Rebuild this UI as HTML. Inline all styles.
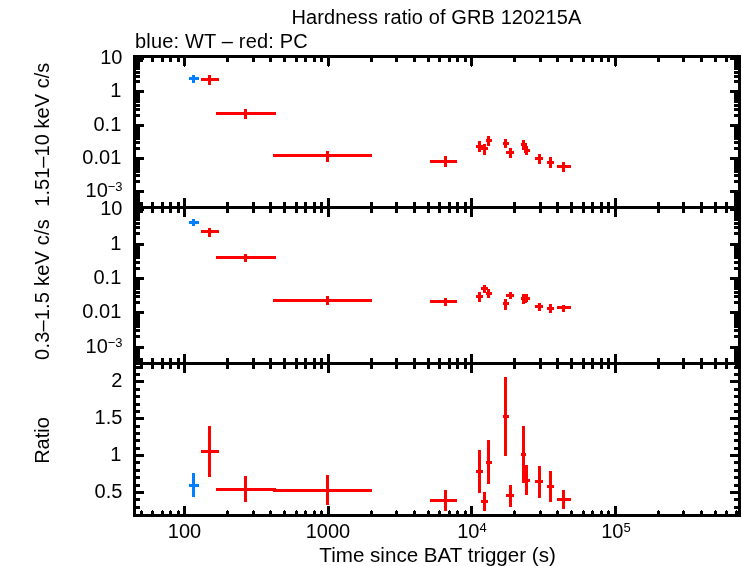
<!DOCTYPE html>
<html><head><meta charset="utf-8"><title>Hardness ratio of GRB 120215A</title>
<style>
html,body{margin:0;padding:0;background:#fff;}
svg{display:block;}
text{font-family:"Liberation Sans",sans-serif;font-size:20px;fill:#000;}
</style></head><body>
<svg width="742" height="566" viewBox="0 0 742 566">
<rect x="0" y="0" width="742" height="566" fill="#fff"/>
<g shape-rendering="crispEdges" fill="#000">
<rect x="133" y="55" width="608" height="3"/>
<rect x="133" y="514" width="608" height="3"/>
<rect x="133" y="55" width="3" height="462"/>
<rect x="738" y="55" width="3" height="462"/>
<rect x="133" y="206" width="608" height="3"/>
<rect x="133" y="362" width="608" height="3"/>
<rect x="140" y="58" width="3" height="4"/>
<rect x="140" y="202" width="3" height="11"/>
<rect x="140" y="358" width="3" height="11"/>
<rect x="140" y="511" width="3" height="3"/>
<rect x="141" y="510" width="1" height="1"/>
<rect x="151" y="58" width="3" height="4"/>
<rect x="151" y="202" width="3" height="11"/>
<rect x="151" y="358" width="3" height="11"/>
<rect x="151" y="511" width="3" height="3"/>
<rect x="152" y="510" width="1" height="1"/>
<rect x="161" y="58" width="3" height="4"/>
<rect x="161" y="202" width="3" height="11"/>
<rect x="161" y="358" width="3" height="11"/>
<rect x="161" y="511" width="3" height="3"/>
<rect x="162" y="510" width="1" height="1"/>
<rect x="169" y="58" width="3" height="4"/>
<rect x="169" y="202" width="3" height="11"/>
<rect x="169" y="358" width="3" height="11"/>
<rect x="169" y="511" width="3" height="3"/>
<rect x="170" y="510" width="1" height="1"/>
<rect x="177" y="58" width="3" height="4"/>
<rect x="177" y="202" width="3" height="11"/>
<rect x="177" y="358" width="3" height="11"/>
<rect x="177" y="511" width="3" height="3"/>
<rect x="178" y="510" width="1" height="1"/>
<rect x="183" y="58" width="3" height="8"/>
<rect x="184" y="66" width="1" height="1"/>
<rect x="183" y="198" width="3" height="19"/>
<rect x="183" y="354" width="3" height="19"/>
<rect x="183" y="506" width="3" height="8"/>
<rect x="226" y="58" width="3" height="4"/>
<rect x="226" y="202" width="3" height="11"/>
<rect x="226" y="358" width="3" height="11"/>
<rect x="226" y="511" width="3" height="3"/>
<rect x="227" y="510" width="1" height="1"/>
<rect x="252" y="58" width="3" height="4"/>
<rect x="252" y="202" width="3" height="11"/>
<rect x="252" y="358" width="3" height="11"/>
<rect x="252" y="511" width="3" height="3"/>
<rect x="253" y="510" width="1" height="1"/>
<rect x="269" y="58" width="3" height="4"/>
<rect x="269" y="202" width="3" height="11"/>
<rect x="269" y="358" width="3" height="11"/>
<rect x="269" y="511" width="3" height="3"/>
<rect x="270" y="510" width="1" height="1"/>
<rect x="283" y="58" width="3" height="4"/>
<rect x="283" y="202" width="3" height="11"/>
<rect x="283" y="358" width="3" height="11"/>
<rect x="283" y="511" width="3" height="3"/>
<rect x="284" y="510" width="1" height="1"/>
<rect x="295" y="58" width="3" height="4"/>
<rect x="295" y="202" width="3" height="11"/>
<rect x="295" y="358" width="3" height="11"/>
<rect x="295" y="511" width="3" height="3"/>
<rect x="296" y="510" width="1" height="1"/>
<rect x="304" y="58" width="3" height="4"/>
<rect x="304" y="202" width="3" height="11"/>
<rect x="304" y="358" width="3" height="11"/>
<rect x="304" y="511" width="3" height="3"/>
<rect x="305" y="510" width="1" height="1"/>
<rect x="313" y="58" width="3" height="4"/>
<rect x="313" y="202" width="3" height="11"/>
<rect x="313" y="358" width="3" height="11"/>
<rect x="313" y="511" width="3" height="3"/>
<rect x="314" y="510" width="1" height="1"/>
<rect x="320" y="58" width="3" height="4"/>
<rect x="320" y="202" width="3" height="11"/>
<rect x="320" y="358" width="3" height="11"/>
<rect x="320" y="511" width="3" height="3"/>
<rect x="321" y="510" width="1" height="1"/>
<rect x="327" y="58" width="3" height="8"/>
<rect x="328" y="66" width="1" height="1"/>
<rect x="327" y="198" width="3" height="19"/>
<rect x="327" y="354" width="3" height="19"/>
<rect x="327" y="506" width="3" height="8"/>
<rect x="370" y="58" width="3" height="4"/>
<rect x="370" y="202" width="3" height="11"/>
<rect x="370" y="358" width="3" height="11"/>
<rect x="370" y="511" width="3" height="3"/>
<rect x="371" y="510" width="1" height="1"/>
<rect x="395" y="58" width="3" height="4"/>
<rect x="395" y="202" width="3" height="11"/>
<rect x="395" y="358" width="3" height="11"/>
<rect x="395" y="511" width="3" height="3"/>
<rect x="396" y="510" width="1" height="1"/>
<rect x="413" y="58" width="3" height="4"/>
<rect x="413" y="202" width="3" height="11"/>
<rect x="413" y="358" width="3" height="11"/>
<rect x="413" y="511" width="3" height="3"/>
<rect x="414" y="510" width="1" height="1"/>
<rect x="427" y="58" width="3" height="4"/>
<rect x="427" y="202" width="3" height="11"/>
<rect x="427" y="358" width="3" height="11"/>
<rect x="427" y="511" width="3" height="3"/>
<rect x="428" y="510" width="1" height="1"/>
<rect x="438" y="58" width="3" height="4"/>
<rect x="438" y="202" width="3" height="11"/>
<rect x="438" y="358" width="3" height="11"/>
<rect x="438" y="511" width="3" height="3"/>
<rect x="439" y="510" width="1" height="1"/>
<rect x="448" y="58" width="3" height="4"/>
<rect x="448" y="202" width="3" height="11"/>
<rect x="448" y="358" width="3" height="11"/>
<rect x="448" y="511" width="3" height="3"/>
<rect x="449" y="510" width="1" height="1"/>
<rect x="456" y="58" width="3" height="4"/>
<rect x="456" y="202" width="3" height="11"/>
<rect x="456" y="358" width="3" height="11"/>
<rect x="456" y="511" width="3" height="3"/>
<rect x="457" y="510" width="1" height="1"/>
<rect x="464" y="58" width="3" height="4"/>
<rect x="464" y="202" width="3" height="11"/>
<rect x="464" y="358" width="3" height="11"/>
<rect x="464" y="511" width="3" height="3"/>
<rect x="465" y="510" width="1" height="1"/>
<rect x="470" y="58" width="3" height="8"/>
<rect x="471" y="66" width="1" height="1"/>
<rect x="470" y="198" width="3" height="19"/>
<rect x="470" y="354" width="3" height="19"/>
<rect x="470" y="506" width="3" height="8"/>
<rect x="513" y="58" width="3" height="4"/>
<rect x="513" y="202" width="3" height="11"/>
<rect x="513" y="358" width="3" height="11"/>
<rect x="513" y="511" width="3" height="3"/>
<rect x="514" y="510" width="1" height="1"/>
<rect x="539" y="58" width="3" height="4"/>
<rect x="539" y="202" width="3" height="11"/>
<rect x="539" y="358" width="3" height="11"/>
<rect x="539" y="511" width="3" height="3"/>
<rect x="540" y="510" width="1" height="1"/>
<rect x="556" y="58" width="3" height="4"/>
<rect x="556" y="202" width="3" height="11"/>
<rect x="556" y="358" width="3" height="11"/>
<rect x="556" y="511" width="3" height="3"/>
<rect x="557" y="510" width="1" height="1"/>
<rect x="570" y="58" width="3" height="4"/>
<rect x="570" y="202" width="3" height="11"/>
<rect x="570" y="358" width="3" height="11"/>
<rect x="570" y="511" width="3" height="3"/>
<rect x="571" y="510" width="1" height="1"/>
<rect x="582" y="58" width="3" height="4"/>
<rect x="582" y="202" width="3" height="11"/>
<rect x="582" y="358" width="3" height="11"/>
<rect x="582" y="511" width="3" height="3"/>
<rect x="583" y="510" width="1" height="1"/>
<rect x="591" y="58" width="3" height="4"/>
<rect x="591" y="202" width="3" height="11"/>
<rect x="591" y="358" width="3" height="11"/>
<rect x="591" y="511" width="3" height="3"/>
<rect x="592" y="510" width="1" height="1"/>
<rect x="600" y="58" width="3" height="4"/>
<rect x="600" y="202" width="3" height="11"/>
<rect x="600" y="358" width="3" height="11"/>
<rect x="600" y="511" width="3" height="3"/>
<rect x="601" y="510" width="1" height="1"/>
<rect x="607" y="58" width="3" height="4"/>
<rect x="607" y="202" width="3" height="11"/>
<rect x="607" y="358" width="3" height="11"/>
<rect x="607" y="511" width="3" height="3"/>
<rect x="608" y="510" width="1" height="1"/>
<rect x="614" y="58" width="3" height="8"/>
<rect x="615" y="66" width="1" height="1"/>
<rect x="614" y="198" width="3" height="19"/>
<rect x="614" y="354" width="3" height="19"/>
<rect x="614" y="506" width="3" height="8"/>
<rect x="657" y="58" width="3" height="4"/>
<rect x="657" y="202" width="3" height="11"/>
<rect x="657" y="358" width="3" height="11"/>
<rect x="657" y="511" width="3" height="3"/>
<rect x="658" y="510" width="1" height="1"/>
<rect x="682" y="58" width="3" height="4"/>
<rect x="682" y="202" width="3" height="11"/>
<rect x="682" y="358" width="3" height="11"/>
<rect x="682" y="511" width="3" height="3"/>
<rect x="683" y="510" width="1" height="1"/>
<rect x="700" y="58" width="3" height="4"/>
<rect x="700" y="202" width="3" height="11"/>
<rect x="700" y="358" width="3" height="11"/>
<rect x="700" y="511" width="3" height="3"/>
<rect x="701" y="510" width="1" height="1"/>
<rect x="714" y="58" width="3" height="4"/>
<rect x="714" y="202" width="3" height="11"/>
<rect x="714" y="358" width="3" height="11"/>
<rect x="714" y="511" width="3" height="3"/>
<rect x="715" y="510" width="1" height="1"/>
<rect x="725" y="58" width="3" height="4"/>
<rect x="725" y="202" width="3" height="11"/>
<rect x="725" y="358" width="3" height="11"/>
<rect x="725" y="511" width="3" height="3"/>
<rect x="726" y="510" width="1" height="1"/>
<rect x="735" y="58" width="3" height="4"/>
<rect x="735" y="202" width="3" height="11"/>
<rect x="735" y="358" width="3" height="11"/>
<rect x="735" y="511" width="3" height="3"/>
<rect x="736" y="510" width="1" height="1"/>
<rect x="136" y="58" width="4" height="12"/>
<rect x="734" y="58" width="4" height="12"/>
<rect x="136" y="71" width="4" height="3"/>
<rect x="734" y="71" width="4" height="3"/>
<rect x="136" y="75" width="4" height="3"/>
<rect x="734" y="75" width="4" height="3"/>
<rect x="136" y="80" width="4" height="3"/>
<rect x="734" y="80" width="4" height="3"/>
<rect x="136" y="90" width="4" height="13"/>
<rect x="734" y="90" width="4" height="13"/>
<rect x="136" y="104" width="4" height="3"/>
<rect x="734" y="104" width="4" height="3"/>
<rect x="136" y="108" width="4" height="3"/>
<rect x="734" y="108" width="4" height="3"/>
<rect x="136" y="114" width="4" height="3"/>
<rect x="734" y="114" width="4" height="3"/>
<rect x="136" y="124" width="4" height="16"/>
<rect x="734" y="124" width="4" height="16"/>
<rect x="136" y="141" width="4" height="3"/>
<rect x="734" y="141" width="4" height="3"/>
<rect x="136" y="147" width="4" height="3"/>
<rect x="734" y="147" width="4" height="3"/>
<rect x="136" y="157" width="4" height="16"/>
<rect x="734" y="157" width="4" height="16"/>
<rect x="136" y="174" width="4" height="3"/>
<rect x="734" y="174" width="4" height="3"/>
<rect x="136" y="180" width="4" height="3"/>
<rect x="734" y="180" width="4" height="3"/>
<rect x="136" y="190" width="4" height="16"/>
<rect x="734" y="190" width="4" height="16"/>
<rect x="136" y="209" width="4" height="12"/>
<rect x="734" y="209" width="4" height="12"/>
<rect x="136" y="222" width="4" height="3"/>
<rect x="734" y="222" width="4" height="3"/>
<rect x="136" y="226" width="4" height="3"/>
<rect x="734" y="226" width="4" height="3"/>
<rect x="136" y="232" width="4" height="3"/>
<rect x="734" y="232" width="4" height="3"/>
<rect x="136" y="243" width="4" height="16"/>
<rect x="734" y="243" width="4" height="16"/>
<rect x="136" y="261" width="4" height="3"/>
<rect x="734" y="261" width="4" height="3"/>
<rect x="136" y="267" width="4" height="3"/>
<rect x="734" y="267" width="4" height="3"/>
<rect x="136" y="277" width="4" height="13"/>
<rect x="734" y="277" width="4" height="13"/>
<rect x="136" y="291" width="4" height="3"/>
<rect x="734" y="291" width="4" height="3"/>
<rect x="136" y="295" width="4" height="3"/>
<rect x="734" y="295" width="4" height="3"/>
<rect x="136" y="301" width="4" height="3"/>
<rect x="734" y="301" width="4" height="3"/>
<rect x="136" y="311" width="4" height="17"/>
<rect x="734" y="311" width="4" height="17"/>
<rect x="136" y="329" width="4" height="3"/>
<rect x="734" y="329" width="4" height="3"/>
<rect x="136" y="335" width="4" height="3"/>
<rect x="734" y="335" width="4" height="3"/>
<rect x="136" y="346" width="4" height="16"/>
<rect x="734" y="346" width="4" height="16"/>
<rect x="136" y="366" width="4" height="3"/>
<rect x="734" y="366" width="4" height="3"/>
<rect x="136" y="373" width="4" height="3"/>
<rect x="734" y="373" width="4" height="3"/>
<rect x="136" y="388" width="4" height="3"/>
<rect x="734" y="388" width="4" height="3"/>
<rect x="136" y="395" width="4" height="3"/>
<rect x="734" y="395" width="4" height="3"/>
<rect x="136" y="403" width="4" height="3"/>
<rect x="734" y="403" width="4" height="3"/>
<rect x="136" y="410" width="4" height="3"/>
<rect x="734" y="410" width="4" height="3"/>
<rect x="136" y="425" width="4" height="3"/>
<rect x="734" y="425" width="4" height="3"/>
<rect x="136" y="432" width="4" height="3"/>
<rect x="734" y="432" width="4" height="3"/>
<rect x="136" y="439" width="4" height="3"/>
<rect x="734" y="439" width="4" height="3"/>
<rect x="136" y="447" width="4" height="3"/>
<rect x="734" y="447" width="4" height="3"/>
<rect x="136" y="461" width="4" height="3"/>
<rect x="734" y="461" width="4" height="3"/>
<rect x="136" y="469" width="4" height="3"/>
<rect x="734" y="469" width="4" height="3"/>
<rect x="136" y="476" width="4" height="3"/>
<rect x="734" y="476" width="4" height="3"/>
<rect x="136" y="484" width="4" height="3"/>
<rect x="734" y="484" width="4" height="3"/>
<rect x="136" y="498" width="4" height="3"/>
<rect x="734" y="498" width="4" height="3"/>
<rect x="136" y="506" width="4" height="3"/>
<rect x="734" y="506" width="4" height="3"/>
<rect x="136" y="57" width="8" height="3"/>
<rect x="730" y="57" width="8" height="3"/>
<rect x="136" y="90" width="8" height="3"/>
<rect x="730" y="90" width="8" height="3"/>
<rect x="136" y="124" width="8" height="3"/>
<rect x="730" y="124" width="8" height="3"/>
<rect x="136" y="157" width="8" height="3"/>
<rect x="730" y="157" width="8" height="3"/>
<rect x="136" y="190" width="8" height="3"/>
<rect x="730" y="190" width="8" height="3"/>
<rect x="136" y="208" width="8" height="3"/>
<rect x="730" y="208" width="8" height="3"/>
<rect x="136" y="243" width="8" height="3"/>
<rect x="730" y="243" width="8" height="3"/>
<rect x="136" y="277" width="8" height="3"/>
<rect x="730" y="277" width="8" height="3"/>
<rect x="136" y="311" width="8" height="3"/>
<rect x="730" y="311" width="8" height="3"/>
<rect x="136" y="346" width="8" height="3"/>
<rect x="730" y="346" width="8" height="3"/>
<rect x="136" y="380" width="8" height="3"/>
<rect x="730" y="380" width="8" height="3"/>
<rect x="136" y="417" width="8" height="3"/>
<rect x="730" y="417" width="8" height="3"/>
<rect x="136" y="454" width="8" height="3"/>
<rect x="730" y="454" width="8" height="3"/>
<rect x="136" y="491" width="8" height="3"/>
<rect x="730" y="491" width="8" height="3"/>
</g>
<g shape-rendering="crispEdges" fill="#ff0000">
<rect x="208" y="75" width="3" height="10"/>
<rect x="201" y="78" width="18" height="3"/>
<rect x="244" y="109" width="3" height="10"/>
<rect x="216" y="112" width="60" height="3"/>
<rect x="326" y="151" width="3" height="11"/>
<rect x="273" y="154" width="99" height="3"/>
<rect x="444" y="156" width="3" height="11"/>
<rect x="430" y="160" width="27" height="3"/>
<rect x="478" y="141" width="3" height="11"/>
<rect x="476" y="145" width="7" height="3"/>
<rect x="483" y="144" width="3" height="11"/>
<rect x="481" y="147" width="7" height="3"/>
<rect x="487" y="136" width="3" height="10"/>
<rect x="486" y="139" width="6" height="3"/>
<rect x="504" y="139" width="3" height="9"/>
<rect x="503" y="142" width="6" height="3"/>
<rect x="509" y="148" width="3" height="10"/>
<rect x="506" y="151" width="8" height="3"/>
<rect x="522" y="140" width="3" height="10"/>
<rect x="521" y="143" width="5" height="3"/>
<rect x="524" y="143" width="3" height="10"/>
<rect x="523" y="146" width="5" height="3"/>
<rect x="525" y="146" width="3" height="9"/>
<rect x="524" y="149" width="6" height="3"/>
<rect x="538" y="154" width="3" height="10"/>
<rect x="535" y="157" width="8" height="3"/>
<rect x="549" y="157" width="3" height="11"/>
<rect x="547" y="161" width="7" height="3"/>
<rect x="562" y="162" width="3" height="10"/>
<rect x="557" y="165" width="14" height="3"/>
<rect x="208" y="228" width="3" height="9"/>
<rect x="201" y="230" width="18" height="3"/>
<rect x="244" y="254" width="3" height="8"/>
<rect x="216" y="256" width="60" height="3"/>
<rect x="326" y="296" width="3" height="9"/>
<rect x="273" y="299" width="99" height="3"/>
<rect x="444" y="298" width="3" height="8"/>
<rect x="430" y="300" width="27" height="3"/>
<rect x="478" y="292" width="3" height="10"/>
<rect x="476" y="295" width="7" height="3"/>
<rect x="483" y="285" width="3" height="8"/>
<rect x="481" y="287" width="7" height="3"/>
<rect x="487" y="289" width="3" height="9"/>
<rect x="486" y="292" width="6" height="3"/>
<rect x="504" y="299" width="3" height="11"/>
<rect x="503" y="302" width="6" height="3"/>
<rect x="509" y="292" width="3" height="7"/>
<rect x="506" y="294" width="8" height="3"/>
<rect x="522" y="294" width="3" height="10"/>
<rect x="521" y="297" width="5" height="3"/>
<rect x="524" y="294" width="3" height="9"/>
<rect x="523" y="297" width="5" height="3"/>
<rect x="525" y="294" width="3" height="8"/>
<rect x="524" y="297" width="6" height="3"/>
<rect x="538" y="303" width="3" height="8"/>
<rect x="535" y="305" width="8" height="3"/>
<rect x="549" y="304" width="3" height="9"/>
<rect x="547" y="307" width="7" height="3"/>
<rect x="562" y="305" width="3" height="7"/>
<rect x="557" y="306" width="14" height="3"/>
<rect x="208" y="426" width="3" height="51"/>
<rect x="201" y="450" width="18" height="3"/>
<rect x="244" y="476" width="3" height="26"/>
<rect x="216" y="488" width="60" height="3"/>
<rect x="326" y="475" width="3" height="30"/>
<rect x="273" y="489" width="99" height="3"/>
<rect x="444" y="490" width="3" height="21"/>
<rect x="430" y="499" width="27" height="3"/>
<rect x="478" y="450" width="3" height="43"/>
<rect x="476" y="470" width="7" height="3"/>
<rect x="483" y="492" width="3" height="19"/>
<rect x="481" y="500" width="7" height="3"/>
<rect x="487" y="440" width="3" height="44"/>
<rect x="486" y="461" width="6" height="3"/>
<rect x="504" y="377" width="3" height="79"/>
<rect x="503" y="415" width="6" height="3"/>
<rect x="509" y="485" width="3" height="22"/>
<rect x="506" y="494" width="8" height="3"/>
<rect x="522" y="426" width="3" height="57"/>
<rect x="521" y="453" width="5" height="3"/>
<rect x="524" y="465" width="3" height="18"/>
<rect x="523" y="479" width="5" height="3"/>
<rect x="525" y="465" width="3" height="30"/>
<rect x="522" y="479" width="8" height="3"/>
<rect x="538" y="466" width="3" height="32"/>
<rect x="535" y="480" width="8" height="3"/>
<rect x="549" y="471" width="3" height="31"/>
<rect x="547" y="485" width="7" height="3"/>
<rect x="562" y="490" width="3" height="19"/>
<rect x="557" y="498" width="14" height="3"/>
</g>
<g shape-rendering="crispEdges" fill="#0080ff">
<rect x="192" y="75" width="3" height="8"/>
<rect x="189" y="77" width="10" height="3"/>
<rect x="192" y="219" width="3" height="7"/>
<rect x="189" y="221" width="10" height="3"/>
<rect x="192" y="473" width="3" height="24"/>
<rect x="189" y="484" width="10" height="3"/>
</g>
<g>
<text x="436.5" y="23.5" text-anchor="middle" letter-spacing="0.107">Hardness ratio of GRB 120215A</text>
<text x="135" y="48" text-anchor="start" letter-spacing="0.18">blue: WT – red: PC</text>
<text x="122.4" y="63.5" text-anchor="end">10</text>
<text x="121.3" y="96.5" text-anchor="end">1</text>
<text x="121.3" y="130.5" text-anchor="end">0.1</text>
<text x="121.3" y="163.5" text-anchor="end">0.01</text>
<text x="122.4" y="214.5" text-anchor="end">10</text>
<text x="121.3" y="249.5" text-anchor="end">1</text>
<text x="121.3" y="283.5" text-anchor="end">0.1</text>
<text x="121.3" y="317.5" text-anchor="end">0.01</text>
<text x="122.4" y="386.5" text-anchor="end">2</text>
<text x="122.4" y="423.5" text-anchor="end">1.5</text>
<text x="121.3" y="460.5" text-anchor="end">1</text>
<text x="122.4" y="497.5" text-anchor="end">0.5</text>
<text x="122.6" y="196.5" text-anchor="end">10<tspan dy="-5.6" font-size="13">−3</tspan></text>
<text x="122.6" y="352.5" text-anchor="end">10<tspan dy="-5.6" font-size="13">−3</tspan></text>
<text x="184.5" y="538" text-anchor="middle">100</text>
<text x="328" y="538" text-anchor="middle">1000</text>
<text x="472" y="538" text-anchor="middle">10<tspan dy="-5.6" font-size="13">4</tspan></text>
<text x="616" y="538" text-anchor="middle">10<tspan dy="-5.6" font-size="13">5</tspan></text>
<text x="437.6" y="562" text-anchor="middle" style="font-size:20.6px">Time since BAT trigger (s)</text>
<text transform="translate(48.5,134.7) rotate(-90)" text-anchor="middle" letter-spacing="0.05">1.51–10 keV c/s</text>
<text transform="translate(48.5,289.5) rotate(-90)" text-anchor="middle" letter-spacing="0.2">0.3–1.5 keV c/s</text>
<text transform="translate(48.5,440.5) rotate(-90)" text-anchor="middle">Ratio</text>
</g>
</svg>
</body></html>
